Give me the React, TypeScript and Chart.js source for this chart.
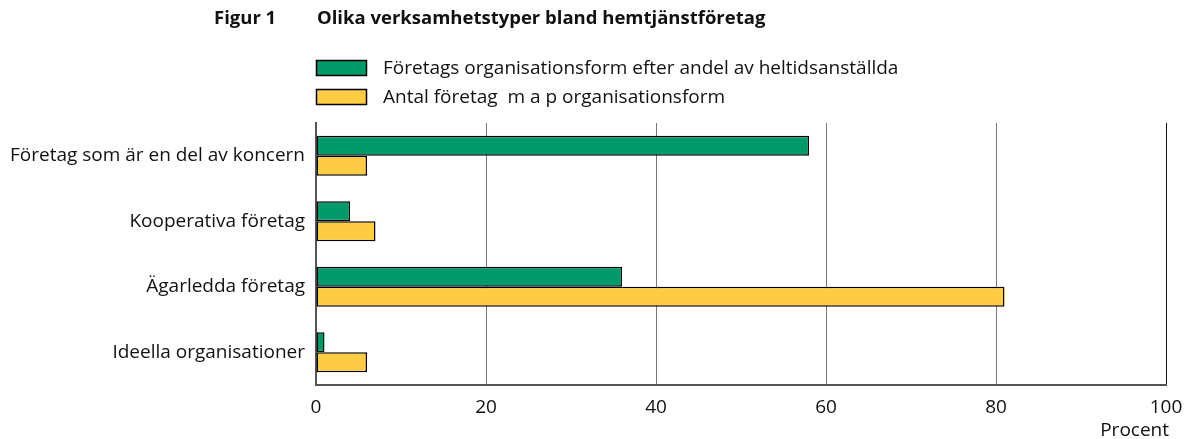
import React, { useEffect, useRef } from "react";
import { Chart, registerables } from "chart.js";

Chart.register(...registerables);

const categories = [
  "Företag som är en del av koncern",
  "Kooperativa företag",
  "Ägarledda företag",
  "Ideella organisationer",
];
const seriesNames = [
  "Företags organisationsform efter andel av heltidsanställda",
  "Antal företag  m a p organisationsform",
];
const heltidsValues = [58, 4, 36, 1];
const antalValues = [6, 7, 81, 6];
const xTicks = [0, 20, 40, 60, 80, 100];
const titleLabel = "Figur 1";
const titleText = "Olika verksamhetstyper bland hemtjänstföretag";
const axisUnit = "Procent";

const GREEN = "#00996A";
const YELLOW = "#FFCC44";
const FONT = "'Open Sans', 'Noto Sans', sans-serif";

export default function App() {
  const ref = useRef<HTMLCanvasElement | null>(null);
  useEffect(() => {
    if (!ref.current) return;
    const overlay = {
      id: "overlay",
      afterDraw(chart: any) {
        const ctx = chart.ctx;
        ctx.save();
        ctx.fillStyle = "#111";
        ctx.textBaseline = "middle";
        ctx.font = `bold 18.5px ${FONT}`;
        ctx.textAlign = "left";
        ctx.fillText(titleLabel, 214, 19);
        ctx.fillText(titleText, 317, 19);
        ctx.font = `19px ${FONT}`;
        const colors = [GREEN, YELLOW];
        const ys = [68, 97];
        seriesNames.forEach((n, i) => {
          ctx.fillStyle = colors[i];
          ctx.fillRect(316.5, ys[i] - 7.5, 50, 15);
          ctx.strokeStyle = "#000";
          ctx.lineWidth = 1.5;
          ctx.strokeRect(316.5, ys[i] - 7.5, 50, 15);
          ctx.fillStyle = "#111";
          ctx.fillText(n, 383, ys[i] + 1);
        });
        ctx.textAlign = "right";
        ctx.fillText(axisUnit, 1169, 431);
        ctx.restore();
      },
    };
    const chart = new Chart(ref.current, {
      type: "bar",
      data: {
        labels: categories,
        datasets: [
          {
            label: seriesNames[0],
            data: heltidsValues,
            backgroundColor: GREEN,
            borderColor: "#000",
            borderWidth: 1.5,
            borderSkipped: false,
            categoryPercentage: 0.61,
            barPercentage: 1,
          },
          {
            label: seriesNames[1],
            data: antalValues,
            backgroundColor: YELLOW,
            borderColor: "#000",
            borderWidth: 1.5,
            borderSkipped: false,
            categoryPercentage: 0.61,
            barPercentage: 1,
          },
        ],
      },
      options: {
        indexAxis: "y",
        animation: false,
        responsive: false,
        maintainAspectRatio: false,
        layout: { padding: { top: 123, right: 20, left: 0, bottom: 0 } },
        plugins: { legend: { display: false }, tooltip: { enabled: false }, title: { display: false } },
        scales: {
          x: {
            min: 0,
            max: 100,
            afterBuildTicks: (scale: any) => {
              scale.ticks = xTicks.map((v) => ({ value: v }));
            },
            afterFit: (scale: any) => {
              scale.height = 54;
              scale.paddingLeft = 0;
              scale.paddingRight = 0;
            },
            grid: {
              color: (c: any) => (c.tick && c.tick.value === 100 ? "#111" : c.tick && c.tick.value === 0 ? "rgba(0,0,0,0)" : "#777"),
              lineWidth: 1,
              drawTicks: false,
            },
            border: { display: true, color: "#555", width: 2 },
            ticks: { color: "#111", font: { family: FONT, size: 19 }, padding: 11, maxRotation: 0 },
          },
          y: {
            afterFit: (scale: any) => {
              scale.width = 316;
              scale.paddingTop = 0;
              scale.paddingBottom = 0;
            },
            grid: { display: false, drawTicks: false },
            border: { display: true, color: "#555", width: 2 },
            ticks: { color: "#111", font: { family: FONT, size: 19 }, padding: 11 },
          },
        },
      },
      plugins: [overlay],
    });
    return () => chart.destroy();
  }, []);
  return (
    <div style={{ position: "fixed", left: 0, top: 0, width: 1186, height: 439, background: "#fff" }}>
      <canvas ref={ref} width={1186} height={439} style={{ width: 1186, height: 439 }} />
    </div>
  );
}
